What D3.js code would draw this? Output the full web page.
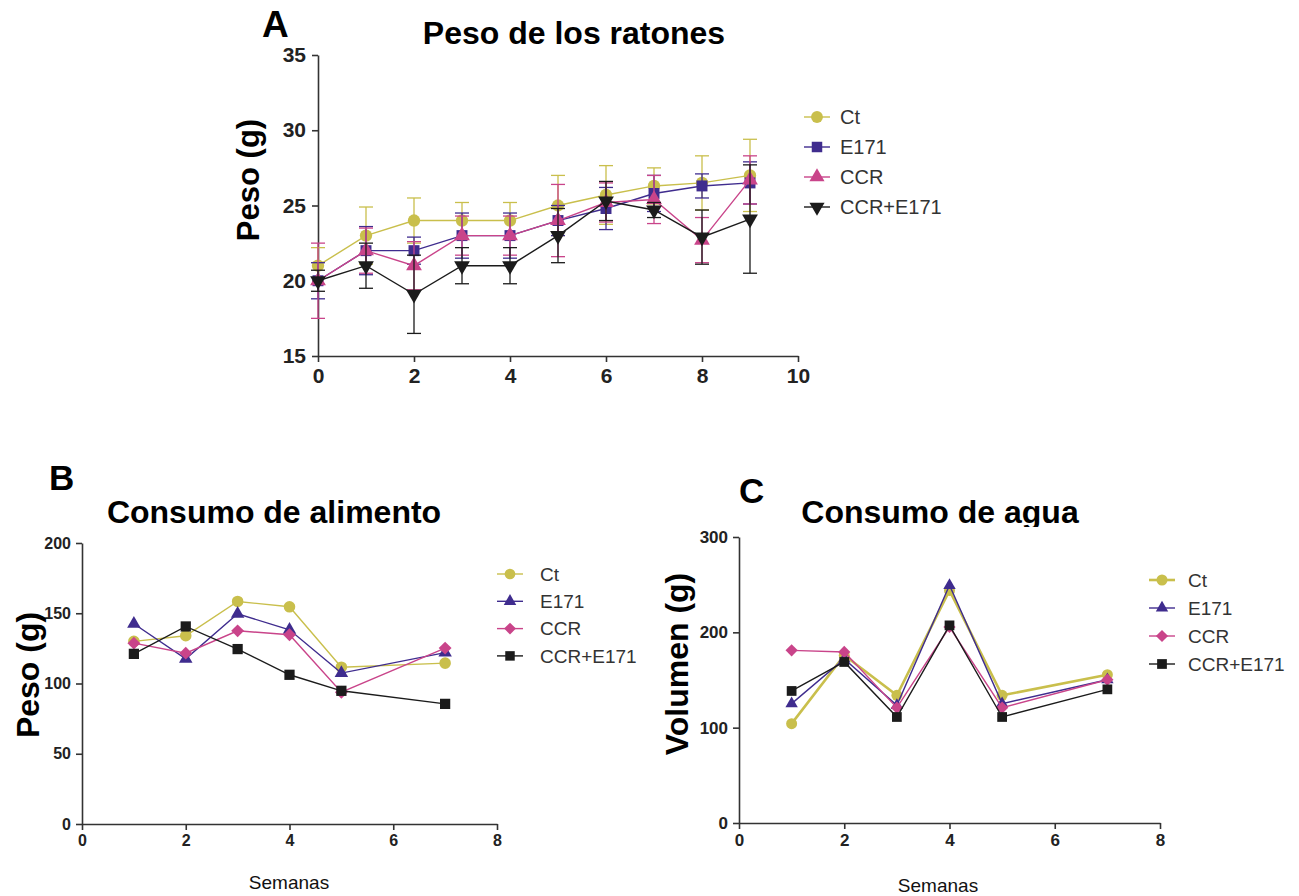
<!DOCTYPE html>
<html>
<head>
<meta charset="utf-8">
<script src="https://cdn.jsdelivr.net/npm/d3@7"></script>
<style>
  body { margin: 0; background: #fff; }
  svg { display: block; font-family: "Liberation Sans", Arial, sans-serif; }
</style>
</head>
<body>
<div id="chart"></div>
<script>
// ---- data ----
const groups = ["Ct", "E171", "CCR", "CCR+E171"];

// A: peso de los ratones (mean, error)
const weeksA = [0, 1, 2, 3, 4, 5, 6, 7, 8, 9];
const ctA = [21.0, 23.0, 24.0, 24.0, 24.0, 25.0, 25.7, 26.3, 26.5, 27.0];
const ctAErr = [1.2, 1.9, 1.5, 1.2, 1.2, 2.0, 1.95, 1.2, 1.8, 2.4];
const e171A = [20.0, 22.0, 22.0, 23.0, 23.0, 24.0, 24.8, 25.8, 26.3, 26.5];
const e171AErr = [1.2, 1.6, 0.9, 1.5, 1.5, 1.0, 1.4, 1.2, 0.8, 1.4];
const ccrA = [20.0, 22.0, 21.0, 23.0, 23.0, 24.0, 25.2, 25.4, 22.7, 26.7];
const ccrAErr = [2.5, 1.5, 1.6, 1.3, 1.3, 2.4, 1.3, 1.6, 1.5, 1.6];
const ccrE171A = [20.0, 21.0, 19.1, 21.0, 21.0, 23.0, 25.3, 24.7, 22.9, 24.1];
const ccrE171AErr = [0.7, 1.5, 2.6, 1.2, 1.2, 1.8, 1.3, 0.5, 1.8, 3.6];

// B: consumo de alimento
const weeksBC = [1, 2, 3, 4, 5, 7];
const ctB = [130, 134, 158.4, 154.6, 111.6, 114.5];
const e171B = [142.5, 117.6, 149.6, 138.2, 107.4, 122];
const ccrB = [128.7, 121.6, 137.5, 134.7, 93.8, 125.2];
const ccrE171B = [121.1, 140.6, 124.5, 106.2, 94.8, 85.5];

// C: consumo de agua
const ctC = [104.2, 176, 133.9, 244, 133.9, 155.6];
const e171C = [125.2, 172, 123.4, 249.3, 125.2, 150.3];
const ccrC = [181.1, 179.4, 121, 205.6, 121, 150.3];
const ccrE171C = [138.5, 168.9, 111.2, 207.3, 111.2, 140.2];

const colors = {"Ct": "#c9bf4c", "E171": "#3f2c8e", "CCR": "#c9448a", "CCR+E171": "#1b1b1b"};

const W = 1299, H = 896;
const svg = d3.select("#chart").append("svg")
  .attr("width", W).attr("height", H)
  .attr("viewBox", [0, 0, W, H]);

// triangles with the centroid on the point, scaled a bit smaller than d3's
function tri(dir, k) {
  return {
    draw(ctx, size) {
      const s = Math.sqrt(k * size / (Math.sqrt(3) / 4));
      const h = s * Math.sqrt(3) / 2;
      ctx.moveTo(-s / 2, dir * h / 3);
      ctx.lineTo(s / 2, dir * h / 3);
      ctx.lineTo(0, -dir * 2 * h / 3);
      ctx.closePath();
    }
  };
}

function drawPanel(p) {
  const g = svg.append("g");
  const x = d3.scaleLinear().domain(p.xDomain).range(p.xRange);
  const y = d3.scaleLinear().domain(p.yDomain).range(p.yRange);

  // axes
  const ax = g.append("g")
    .attr("transform", `translate(0,${p.yRange[0]})`)
    .call(d3.axisBottom(x).tickValues(p.xTicks).tickSize(6).tickSizeOuter(0).tickPadding(p.tickPad));
  const ay = g.append("g")
    .attr("transform", `translate(${p.xRange[0]},0)`)
    .call(d3.axisLeft(y).tickValues(p.yTicks).tickSize(6).tickSizeOuter(0).tickPadding(p.tickPad));
  [ax, ay].forEach(a => {
    a.select(".domain").attr("stroke", "#333").attr("stroke-width", 1.6);
    a.selectAll(".tick line").attr("stroke", "#333").attr("stroke-width", 1.6);
    a.selectAll(".tick text")
      .attr("fill", "#222")
      .attr("font-size", p.tickFont)
      .attr("font-weight", "bold");
  });

  // series
  p.series.forEach(s => {
    const c = colors[s.name];
    const pts = p.weeks.map((w, i) => ({w, v: s.values[i], e: s.err ? s.err[i] : 0}));
    if (s.err) {
      const eb = g.append("g").attr("stroke", c).attr("stroke-width", 1.3);
      pts.forEach(d => {
        eb.append("line")
          .attr("x1", x(d.w)).attr("x2", x(d.w))
          .attr("y1", y(d.v - d.e)).attr("y2", y(d.v + d.e));
        [d.v - d.e, d.v + d.e].forEach(v => {
          eb.append("line")
            .attr("x1", x(d.w) - 7).attr("x2", x(d.w) + 7)
            .attr("y1", y(v)).attr("y2", y(v));
        });
      });
    }
    g.append("path")
      .datum(pts)
      .attr("fill", "none")
      .attr("stroke", c)
      .attr("stroke-width", s.name === "Ct" && p.thickCt ? 2.6 : 1.4)
      .attr("d", d3.line().x(d => x(d.w)).y(d => y(d.v)));
    g.append("g").selectAll("path")
      .data(pts)
      .join("path")
      .attr("transform", d => `translate(${x(d.w)},${y(d.v)})`)
      .attr("fill", c)
      .attr("d", d3.symbol().type(p.symbols[s.name]).size(p.symSize));
  });

  // legend
  const lg = g.append("g");
  groups.forEach((name, i) => {
    const yy = p.legend.y0 + i * p.legend.dy;
    lg.append("line")
      .attr("x1", p.legend.x - 13).attr("x2", p.legend.x + 13)
      .attr("y1", yy).attr("y2", yy)
      .attr("stroke", colors[name])
      .attr("stroke-width", name === "Ct" && p.thickCt ? 2.6 : 1.4);
    lg.append("path")
      .attr("transform", `translate(${p.legend.x},${yy})`)
      .attr("fill", colors[name])
      .attr("d", d3.symbol().type(p.symbols[name]).size(p.legend.sym));
    lg.append("text")
      .attr("x", p.legend.x + p.legend.tx)
      .attr("y", yy)
      .attr("dy", "0.36em")
      .attr("font-size", p.legend.font)
      .attr("fill", "#333")
      .text(name);
  });

  // titles and labels
  const t = g.append("text")
    .attr("x", p.title.x).attr("y", p.title.y)
    .attr("text-anchor", "middle")
    .attr("font-size", 32).attr("font-weight", "bold")
    .attr("fill", "#000")
    .text(p.title.text);
  if (p.title.clip) {
    const id = "clip-" + p.letter.text;
    g.append("clipPath").attr("id", id)
      .append("rect").attr("x", 0).attr("y", 0).attr("width", W).attr("height", p.title.clip);
    t.attr("clip-path", `url(#${id})`);
  }
  g.append("text")
    .attr("x", p.letter.x).attr("y", p.letter.y)
    .attr("font-size", p.letter.size).attr("font-weight", "bold")
    .text(p.letter.text);
  g.append("text")
    .attr("transform", `translate(${p.ylab.x},${p.ylab.y}) rotate(-90)`)
    .attr("text-anchor", "middle")
    .attr("dy", "0.36em")
    .attr("font-size", p.ylab.size).attr("font-weight", "bold")
    .text(p.ylab.text);
  if (p.xlab) {
    g.append("text")
      .attr("x", p.xlab.x).attr("y", p.xlab.y)
      .attr("text-anchor", "middle")
      .attr("font-size", 19).attr("fill", "#111")
      .text("Semanas");
  }
}

// Panel A
drawPanel({
  xDomain: [0, 10], xRange: [318, 798],
  yDomain: [15, 35], yRange: [356, 55],
  xTicks: [0, 2, 4, 6, 8, 10], yTicks: [15, 20, 25, 30, 35],
  tickFont: 21, tickPad: 6,
  weeks: weeksA,
  symSize: 120,
  symbols: {"Ct": d3.symbolCircle, "E171": d3.symbolSquare, "CCR": tri(1, 0.9), "CCR+E171": tri(-1, 0.9)},
  series: [
    {name: "Ct", values: ctA, err: ctAErr},
    {name: "E171", values: e171A, err: e171AErr},
    {name: "CCR", values: ccrA, err: ccrAErr},
    {name: "CCR+E171", values: ccrE171A, err: ccrE171AErr}
  ],
  legend: {x: 817, y0: 117, dy: 30, tx: 23, font: 20, sym: 110},
  title: {text: "Peso de los ratones", x: 574, y: 44},
  letter: {text: "A", x: 262, y: 37, size: 37},
  ylab: {text: "Peso (g)", x: 248, y: 180, size: 31}
});

// Panel B
drawPanel({
  xDomain: [0, 8], xRange: [82, 497],
  yDomain: [0, 200], yRange: [824, 543],
  xTicks: [0, 2, 4, 6, 8], yTicks: [0, 50, 100, 150, 200],
  tickFont: 16, tickPad: 5,
  weeks: weeksBC,
  symSize: 105,
  symbols: {"Ct": d3.symbolCircle, "E171": tri(1, 0.75), "CCR": d3.symbolDiamond2, "CCR+E171": d3.symbolSquare},
  series: [
    {name: "Ct", values: ctB},
    {name: "E171", values: e171B},
    {name: "CCR", values: ccrB},
    {name: "CCR+E171", values: ccrE171B}
  ],
  legend: {x: 510, y0: 574, dy: 27.3, tx: 30, font: 19, sym: 90},
  title: {text: "Consumo de alimento", x: 274, y: 523},
  letter: {text: "B", x: 49, y: 490, size: 35},
  ylab: {text: "Peso (g)", x: 27, y: 675, size: 32},
  xlab: {x: 289, y: 889}
});

// Panel C
drawPanel({
  xDomain: [0, 8], xRange: [739, 1160],
  yDomain: [0, 300], yRange: [823, 537],
  xTicks: [0, 2, 4, 6, 8], yTicks: [0, 100, 200, 300],
  tickFont: 17, tickPad: 5,
  weeks: weeksBC,
  symSize: 95,
  thickCt: true,
  symbols: {"Ct": d3.symbolCircle, "E171": tri(1, 0.7), "CCR": d3.symbolDiamond2, "CCR+E171": d3.symbolSquare},
  series: [
    {name: "Ct", values: ctC},
    {name: "E171", values: e171C},
    {name: "CCR", values: ccrC},
    {name: "CCR+E171", values: ccrE171C}
  ],
  legend: {x: 1162, y0: 580, dy: 28, tx: 26, font: 19, sym: 95},
  title: {text: "Consumo de agua", x: 940, y: 523, clip: 527},
  letter: {text: "C", x: 739, y: 503, size: 35},
  ylab: {text: "Volumen (g)", x: 676, y: 664, size: 32},
  xlab: {x: 938, y: 892}
});
</script>
</body>
</html>
